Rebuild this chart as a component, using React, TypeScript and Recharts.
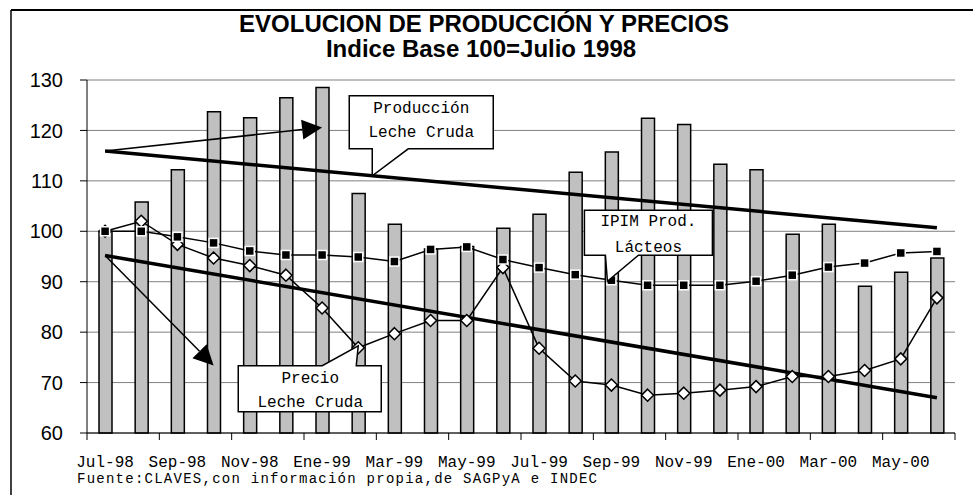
import React from 'react';
import { ComposedChart, Bar, Line, XAxis, YAxis, CartesianGrid, ReferenceLine, ReferenceDot } from 'recharts';

// Meses (Jul-98 a Jun-00)
const meses = [
  'Jul-98', 'Ago-98', 'Sep-98', 'Oct-98', 'Nov-98', 'Dic-98',
  'Ene-99', 'Feb-99', 'Mar-99', 'Abr-99', 'May-99', 'Jun-99',
  'Jul-99', 'Ago-99', 'Sep-99', 'Oct-99', 'Nov-99', 'Dic-99',
  'Ene-00', 'Feb-00', 'Mar-00', 'Abr-00', 'May-00', 'Jun-00',
];

// Producción leche cruda (barras)
const produccion = [100, 105.8, 112.2, 123.7, 122.5, 126.5, 128.5, 107.5, 101.4, 96.5, 97, 100.6,
  103.4, 111.7, 115.7, 122.4, 121.2, 113.3, 112.2, 99.4, 101.4, 89.1, 91.9, 94.7];

// IPIM productos lácteos (cuadrados)
const ipim = [100, 100, 98.9, 97.7, 96.1, 95.3, 95.3, 94.9, 94.0, 96.4, 96.9, 94.4,
  92.8, 91.4, 90.3, 89.3, 89.3, 89.3, 90.1, 91.3, 92.9, 93.7, 95.7, 96.0];

// Precio leche cruda (rombos)
const precio = [100, 102.0, 97.4, 94.7, 93.2, 91.3, 84.8, 76.9, 79.7, 82.3, 82.3, 92.8,
  76.8, 70.3, 69.5, 67.5, 67.9, 68.5, 69.2, 71.2, 71.2, 72.4, 74.7, 86.8];

// Tendencias (solo extremos)
const tendProdExtremos = [115.9, 100.7];
const tendPrecioExtremos = [95.2, 67.0];

const yTicks = [60, 70, 80, 90, 100, 110, 120, 130];

// flechas de las anotaciones: [mes, valor] de inicio y de punta
const flechaProd = { desde: ['Jul-98', 115.9], hasta: ['Ene-99', 120.6] };
const flechaPrecio = { desde: ['Jul-98', 95.2], hasta: ['Oct-98', 73.4] };

const W = 973;
const H = 495;
const ML = 87;
const MR = 18;
const BW = (W - ML - MR) / meses.length;

const data = meses.map((mes, i) => ({
  mes,
  produccion: produccion[i],
  ipim: ipim[i],
  precio: precio[i],
  tendProd: i === 0 ? tendProdExtremos[0] : i === meses.length - 1 ? tendProdExtremos[1] : null,
  tendPrecio: i === 0 ? tendPrecioExtremos[0] : i === meses.length - 1 ? tendPrecioExtremos[1] : null,
}));

const MONO = '"Liberation Mono", "Courier New", monospace';
const SANS = '"Liberation Sans", Arial, sans-serif';

const SquareDot = (props: any) => {
  const { cx, cy, index } = props;
  if (cx == null || cy == null) return null;
  return <rect key={'s' + index} x={cx - 4.5} y={cy - 4.5} width={9} height={9} fill="#000" stroke="#fff" strokeWidth={1.5} />;
};

const DiamondDot = (props: any) => {
  const { cx, cy, index } = props;
  if (cx == null || cy == null) return null;
  return (
    <polygon key={'d' + index} points={`${cx},${cy - 6} ${cx + 6},${cy} ${cx},${cy + 6} ${cx - 6},${cy}`}
      fill="#fff" stroke="#000" strokeWidth={1.5} />
  );
};

const Arrow = (props: any) => {
  const { x1, y1, x2, y2 } = props;
  const a = Math.atan2(y2 - y1, x2 - x1);
  const L = 20, Wd = 10;
  const bx = x2 - L * Math.cos(a), by = y2 - L * Math.sin(a);
  const px = -Math.sin(a) * Wd, py = Math.cos(a) * Wd;
  return (
    <g>
      <line x1={x1} y1={y1} x2={bx} y2={by} stroke="#000" strokeWidth={1.5} />
      <polygon points={`${x2},${y2} ${bx + px},${by + py} ${bx - px},${by - py}`} fill="#000" />
    </g>
  );
};

const txt = { fontFamily: MONO, fontSize: 16, fill: '#000', textAnchor: 'middle' as const };

const CalloutProd = (props: any) => {
  const { cx, cy } = props;
  const L = cx - 9, R = cx + 135, T = cy - 80, B = cy - 27;
  const d = `M${L},${T} H${R} V${B} H${cx + 50} L${cx + 14},${cy} V${B} H${L} Z`;
  return (
    <g>
      <path d={d} fill="#fff" stroke="#000" strokeWidth={1.5} />
      <text x={cx + 63} y={cy - 63} {...txt}>Producción</text>
      <text x={cx + 63} y={cy - 39} {...txt}>Leche Cruda</text>
    </g>
  );
};

const CalloutIpim = (props: any) => {
  const { cx, cy } = props;
  const L = cx - 27, R = cx + 101, T = cy - 70, B = cy - 25;
  const d = `M${L},${T} H${R} V${B} H${cx + 27} L${cx - 4},${cy + 1} L${cx - 6},${B} H${L} Z`;
  return (
    <g>
      <path d={d} fill="#fff" stroke="#000" strokeWidth={1.5} />
      <text x={cx + 37} y={cy - 54} {...txt}>IPIM Prod.</text>
      <text x={cx + 37} y={cy - 28} {...txt}>Lácteos</text>
    </g>
  );
};

const CalloutPrecio = (props: any) => {
  const { cx, cy } = props;
  const L = cx - 120, R = cx + 23, T = cy + 18, B = cy + 64;
  const d = `M${L},${T} H${cx - 36} L${cx},${cy - 2} L${cx - 2},${T} H${R} V${B} H${L} Z`;
  return (
    <g>
      <path d={d} fill="#fff" stroke="#000" strokeWidth={1.5} />
      <text x={cx - 48} y={cy + 35} {...txt}>Precio</text>
      <text x={cx - 48} y={cy + 59} {...txt}>Leche Cruda</text>
    </g>
  );
};

const MonthTick = (props: any) => {
  const { x, y, payload } = props;
  const isLast = payload.value === meses[meses.length - 2];
  return (
    <g>
      <line x1={x - BW / 2} y1={y} x2={x - BW / 2} y2={y + 7} stroke="#000" />
      {isLast && <line x1={x + 1.5 * BW} y1={y} x2={x + 1.5 * BW} y2={y + 7} stroke="#000" />}
      <text x={x} y={y + 34} fontFamily={MONO} fontSize={16} fill="#000" textAnchor="middle">
        {payload.value}
      </text>
    </g>
  );
};

export default function App() {
  return (
    <div style={{ position: 'absolute', left: 0, top: 0, width: W, height: H, background: '#fff' }}>
      <ComposedChart width={W} height={H} data={data} margin={{ top: 80, right: MR, bottom: 0, left: 0 }}>
        <CartesianGrid vertical={false} stroke="#808080" />
        <XAxis dataKey="mes" interval={1} height={62} tickSize={0} tickMargin={0} tickLine={false}
          axisLine={{ stroke: '#000' }} tick={<MonthTick />} />
        <YAxis domain={[60, 130]} ticks={yTicks} width={ML} tickSize={7} tickMargin={17}
          axisLine={{ stroke: '#000' }} tickLine={{ stroke: '#000' }}
          tick={{ fontFamily: SANS, fontSize: 20, fill: '#000' }} />
        <YAxis yAxisId="r" orientation="right" domain={[60, 130]} width={0} tick={false} tickLine={false}
          axisLine={{ stroke: '#808080' }} />
        <Bar dataKey="produccion" fill="#C0C0C0" stroke="#000" strokeWidth={1.5} barSize={13} isAnimationActive={false} />
        <Line dataKey="tendProd" stroke="#000" strokeWidth={3.5} dot={false} connectNulls isAnimationActive={false} />
        <Line dataKey="tendPrecio" stroke="#000" strokeWidth={3.5} dot={false} connectNulls isAnimationActive={false} />
        <Line dataKey="precio" stroke="#000" strokeWidth={1.5} dot={<DiamondDot />} activeDot={false} isAnimationActive={false} />
        <Line dataKey="ipim" stroke="#000" strokeWidth={1.5} dot={<SquareDot />} activeDot={false} isAnimationActive={false} />
        <ReferenceLine segment={[{ x: flechaProd.desde[0], y: flechaProd.desde[1] }, { x: flechaProd.hasta[0], y: flechaProd.hasta[1] }]}
          shape={<Arrow />} />
        <ReferenceLine segment={[{ x: flechaPrecio.desde[0], y: flechaPrecio.desde[1] }, { x: flechaPrecio.hasta[0], y: flechaPrecio.hasta[1] }]}
          shape={<Arrow />} />
        <ReferenceDot x="Feb-99" y={111} shape={<CalloutProd />} />
        <ReferenceDot x="Sep-99" y={ipim[14]} shape={<CalloutIpim />} />
        <ReferenceDot x="Feb-99" y={precio[7]} shape={<CalloutPrecio />} />
      </ComposedChart>
      <svg width={W} height={H} style={{ position: 'absolute', left: 0, top: 0, pointerEvents: 'none' }}>
        <line x1={11} y1={10} x2={W} y2={10} stroke="#000" strokeWidth={2} />
        <line x1={11} y1={10} x2={11} y2={H} stroke="#000" strokeWidth={1.5} />
        <text x={484} y={32} fontFamily={SANS} fontWeight="bold" fontSize={24} textAnchor="middle" fill="#000">
          EVOLUCION DE PRODUCCIÓN Y PRECIOS
        </text>
        <text x={481} y={57} fontFamily={SANS} fontWeight="bold" fontSize={24} textAnchor="middle" fill="#000">
          Indice Base 100=Julio 1998
        </text>
        <text x={77} y={483} fontFamily={MONO} fontSize={14} fill="#000" textLength={520} lengthAdjust="spacing">
          Fuente:CLAVES,con información propia,de SAGPyA e INDEC
        </text>
      </svg>
    </div>
  );
}
